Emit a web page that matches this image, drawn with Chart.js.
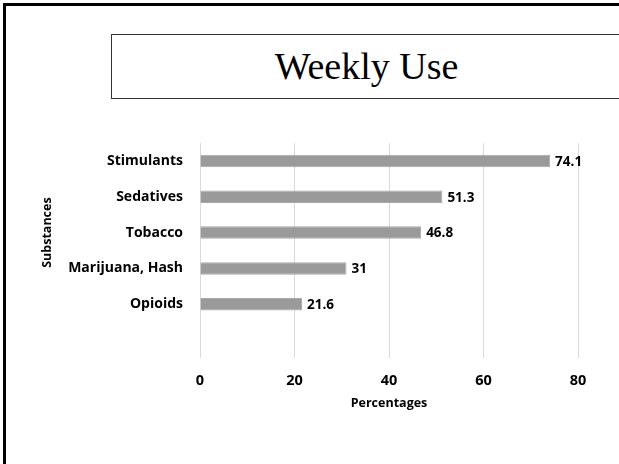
<!DOCTYPE html>
<html>
<head>
<meta charset="utf-8">
<script src="https://cdn.jsdelivr.net/npm/chart.js@4/dist/chart.umd.min.js"></script>
<style>
  html, body { margin: 0; padding: 0; background: #fff; overflow: hidden; }
  body { width: 619px; height: 464px; position: relative; }
  .frame {
    position: absolute; left: 3px; top: 3px; width: 616px; height: 461px;
    border-left: 3px solid #000; border-top: 3px solid #000; box-sizing: border-box;
  }
  .title-box {
    position: absolute; left: 111px; top: 34px; width: 508px; height: 65px;
    border: 1.5px solid #333; border-right: none; box-sizing: border-box;
    font-family: "Liberation Serif", "Times New Roman", serif; font-weight: normal; font-size: 38px;
    color: #000; text-align: center; line-height: 62px; padding-left: 2px;
  }
  #chart { position: absolute; left: 0; top: 0; }
</style>
</head>
<body>
<div class="frame"></div>
<div class="title-box">Weekly Use</div>
<canvas id="chart" width="619" height="464"></canvas>
<script>
// Weekly use of substances, percent of respondents (blank slot keeps Excel's spacing)
const categories = ['Stimulants', 'Sedatives', 'Tobacco', 'Marijuana, Hash', 'Opioids', ''];
const weeklyUse = [74.1, 51.3, 46.8, 31, 21.6, null];
const xTicks = [0, 20, 40, 60, 80];
const xAxisTitle = 'Percentages';
const yAxisTitle = 'Substances';

const FONT = '"Open Sans", Lato, "DejaVu Sans", sans-serif';

// Prints each bar's value just past its end
const valueLabels = {
  id: 'valueLabels',
  afterDatasetsDraw(chart) {
    const ctx = chart.ctx;
    const meta = chart.getDatasetMeta(0);
    ctx.save();
    ctx.font = 'bold 13.5px ' + FONT;
    ctx.fillStyle = '#000';
    ctx.textAlign = 'left';
    ctx.textBaseline = 'middle';
    meta.data.forEach((bar, i) => {
      const v = chart.data.datasets[0].data[i];
      if (v === null || v === undefined) return;
      ctx.fillText(String(v), bar.x + 5, bar.y + 1);
    });
    ctx.restore();
  }
};

// Vertical axis title, centred on the middle category
const sideTitle = {
  id: 'sideTitle',
  afterDraw(chart) {
    const ctx = chart.ctx;
    const y = chart.scales.y.getPixelForValue(2);
    ctx.save();
    ctx.translate(47, y);
    ctx.rotate(-Math.PI / 2);
    ctx.font = 'bold 12.5px ' + FONT;
    ctx.fillStyle = '#000';
    ctx.textAlign = 'center';
    ctx.textBaseline = 'middle';
    ctx.fillText(yAxisTitle, 0, 0);
    ctx.restore();
  }
};

new Chart(document.getElementById('chart'), {
  type: 'bar',
  data: {
    labels: categories,
    datasets: [{
      data: weeklyUse,
      backgroundColor: '#9a9a9a',
      borderColor: '#a8a8a8',
      borderWidth: 1,
      categoryPercentage: 1,
      barPercentage: 0.35
    }]
  },
  options: {
    indexAxis: 'y',
    responsive: false,
    animation: false,
    devicePixelRatio: 1,
    layout: { padding: { left: 0, right: 41, top: 143, bottom: 53 } },
    plugins: {
      legend: { display: false },
      title: { display: false },
      tooltip: { enabled: false }
    },
    scales: {
      x: {
        type: 'linear',
        min: xTicks[0],
        max: xTicks[xTicks.length - 1],
        afterBuildTicks(scale) { scale.ticks = xTicks.map(v => ({ value: v })); },
        afterFit(scale) { scale.height = 53; },
        grid: { color: '#d9d9d9', lineWidth: 1, drawTicks: false },
        border: { display: false },
        ticks: {
          padding: 14,
          color: '#000',
          font: { family: FONT, size: 14.5, weight: 'bold' }
        },
        title: {
          display: true,
          text: xAxisTitle,
          color: '#000',
          padding: { top: 4, bottom: 0 },
          font: { family: FONT, size: 12.5, weight: 'bold' }
        }
      },
      y: {
        afterFit(scale) { scale.width = 200; },
        grid: { display: false, drawTicks: false },
        border: { display: false },
        ticks: {
          padding: 17,
          color: '#000',
          font: { family: FONT, size: 14, weight: 'bold' }
        }
      }
    }
  },
  plugins: [valueLabels, sideTitle]
});
</script>
</body>
</html>
